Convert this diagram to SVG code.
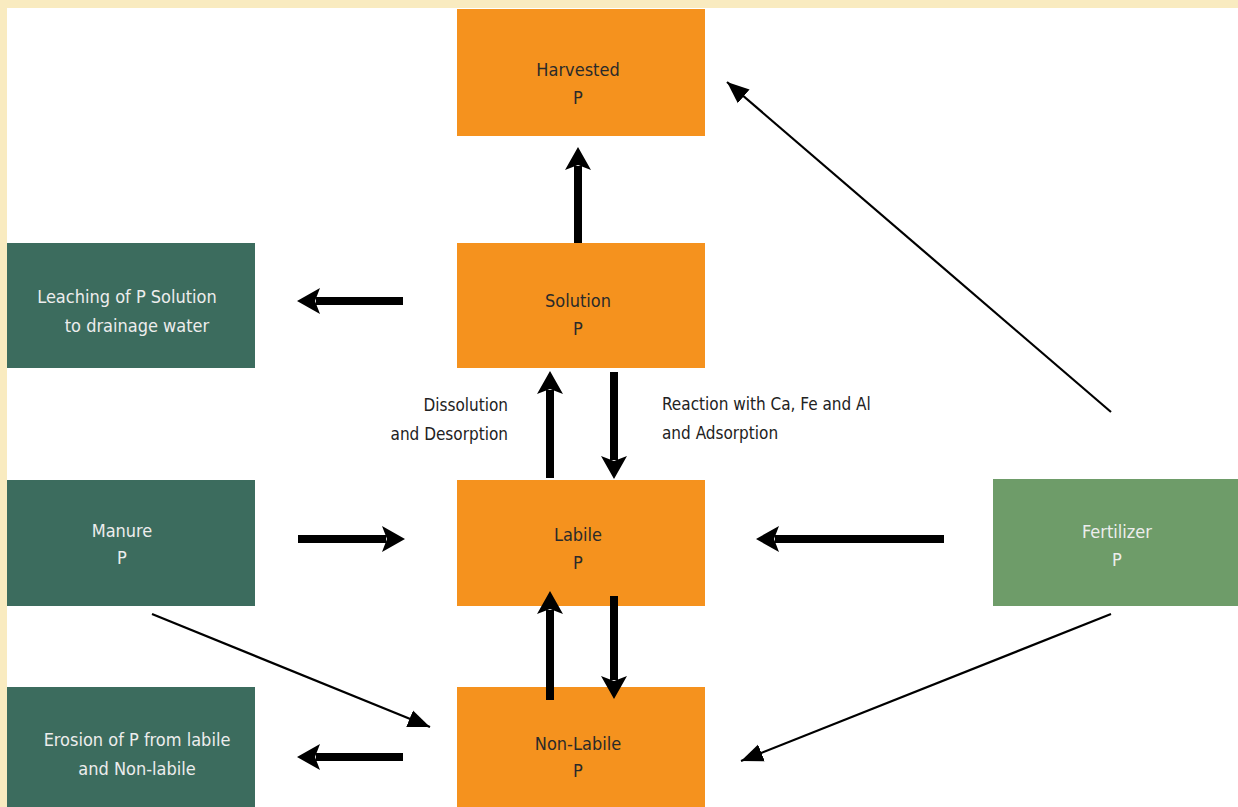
<svg xmlns="http://www.w3.org/2000/svg" width="1238" height="807" viewBox="0 0 1238 807">
<defs>
<marker id="thick" markerUnits="userSpaceOnUse" markerWidth="26" markerHeight="28" refX="4" refY="14" orient="auto">
<path d="M0,1 L23,14 L0,27 L5,14 Z" fill="#000"/>
</marker>
<marker id="thin" markerUnits="userSpaceOnUse" markerWidth="24" markerHeight="22" refX="22" refY="11" orient="auto">
<path d="M0,2 L22,11 L0,20 Z" fill="#000"/>
</marker>
</defs>
<style>
.bg{fill:#F9EBC0}
.org{fill:#F5921E}
.dg{fill:#3C6C5E}
.lg{fill:#6E9C69}
text{font-family:"DejaVu Sans Condensed","Liberation Sans",sans-serif;font-size:18px;text-anchor:middle}
.dk{fill:#2a2a2a}
.wt{fill:#EDEDED}
.lbl{fill:#222;font-size:17px}
.tk{stroke:#000;stroke-width:8;fill:none;marker-end:url(#thick)}
.tn{stroke:#000;stroke-width:2.2;fill:none;marker-end:url(#thin)}
</style>
<rect x="0" y="0" width="1238" height="807" fill="#fff"/>
<rect class="bg" x="0" y="0" width="1238" height="8"/>
<rect class="bg" x="0" y="0" width="7" height="807"/>

<g id="harvested"><rect class="org" x="457" y="9" width="248" height="127"/><text class="dk" x="578" y="76">Harvested</text><text class="dk" x="578" y="104">P</text></g>
<g id="solution"><rect class="org" x="457" y="243" width="248" height="125"/><text class="dk" x="578" y="307">Solution</text><text class="dk" x="578" y="335">P</text></g>
<g id="labile"><rect class="org" x="457" y="480" width="248" height="126"/><text class="dk" x="578" y="541">Labile</text><text class="dk" x="578" y="569">P</text></g>
<g id="nonlabile"><rect class="org" x="457" y="687" width="248" height="120"/><text class="dk" x="578" y="750">Non-Labile</text><text class="dk" x="578" y="777">P</text></g>
<g id="leaching"><rect class="dg" x="7" y="243" width="248" height="125"/><text class="wt" x="127" y="303">Leaching of P Solution</text><text class="wt" x="137" y="332">to drainage water</text></g>
<g id="manure"><rect class="dg" x="7" y="480" width="248" height="126"/><text class="wt" x="122" y="537">Manure</text><text class="wt" x="122" y="564">P</text></g>
<g id="erosion"><rect class="dg" x="7" y="687" width="248" height="120"/><text class="wt" x="137" y="746">Erosion of P from labile</text><text class="wt" x="137" y="775">and Non-labile</text></g>
<g id="fertilizer"><rect class="lg" x="993" y="479" width="245" height="127"/><text class="wt" x="1117" y="538">Fertilizer</text><text class="wt" x="1117" y="566">P</text></g>

<g id="labels">
<text class="lbl" x="508" y="411" style="text-anchor:end">Dissolution</text>
<text class="lbl" x="508" y="440" style="text-anchor:end">and Desorption</text>
<text class="lbl" x="662" y="410" style="text-anchor:start">Reaction with  Ca, Fe and Al</text>
<text class="lbl" x="662" y="439" style="text-anchor:start">and Adsorption</text>
</g>

<g id="connectors">
<path class="tk" d="M578,243 L578,166"/>
<path class="tk" d="M403,301 L316,301"/>
<path class="tk" d="M550,478 L550,390"/>
<path class="tk" d="M614,372 L614,460"/>
<path class="tk" d="M298,539 L386,539"/>
<path class="tk" d="M944,539 L775,539"/>
<path class="tk" d="M614,596 L614,680"/>
<path class="tk" d="M550,700 L550,610"/>
<path class="tk" d="M403,757 L316,757"/>
<path class="tn" d="M152,614 L430,727"/>
<path class="tn" d="M1111,614 L741,761"/>
<path class="tn" d="M1111,412 L727,82"/>
</g>
</svg>
